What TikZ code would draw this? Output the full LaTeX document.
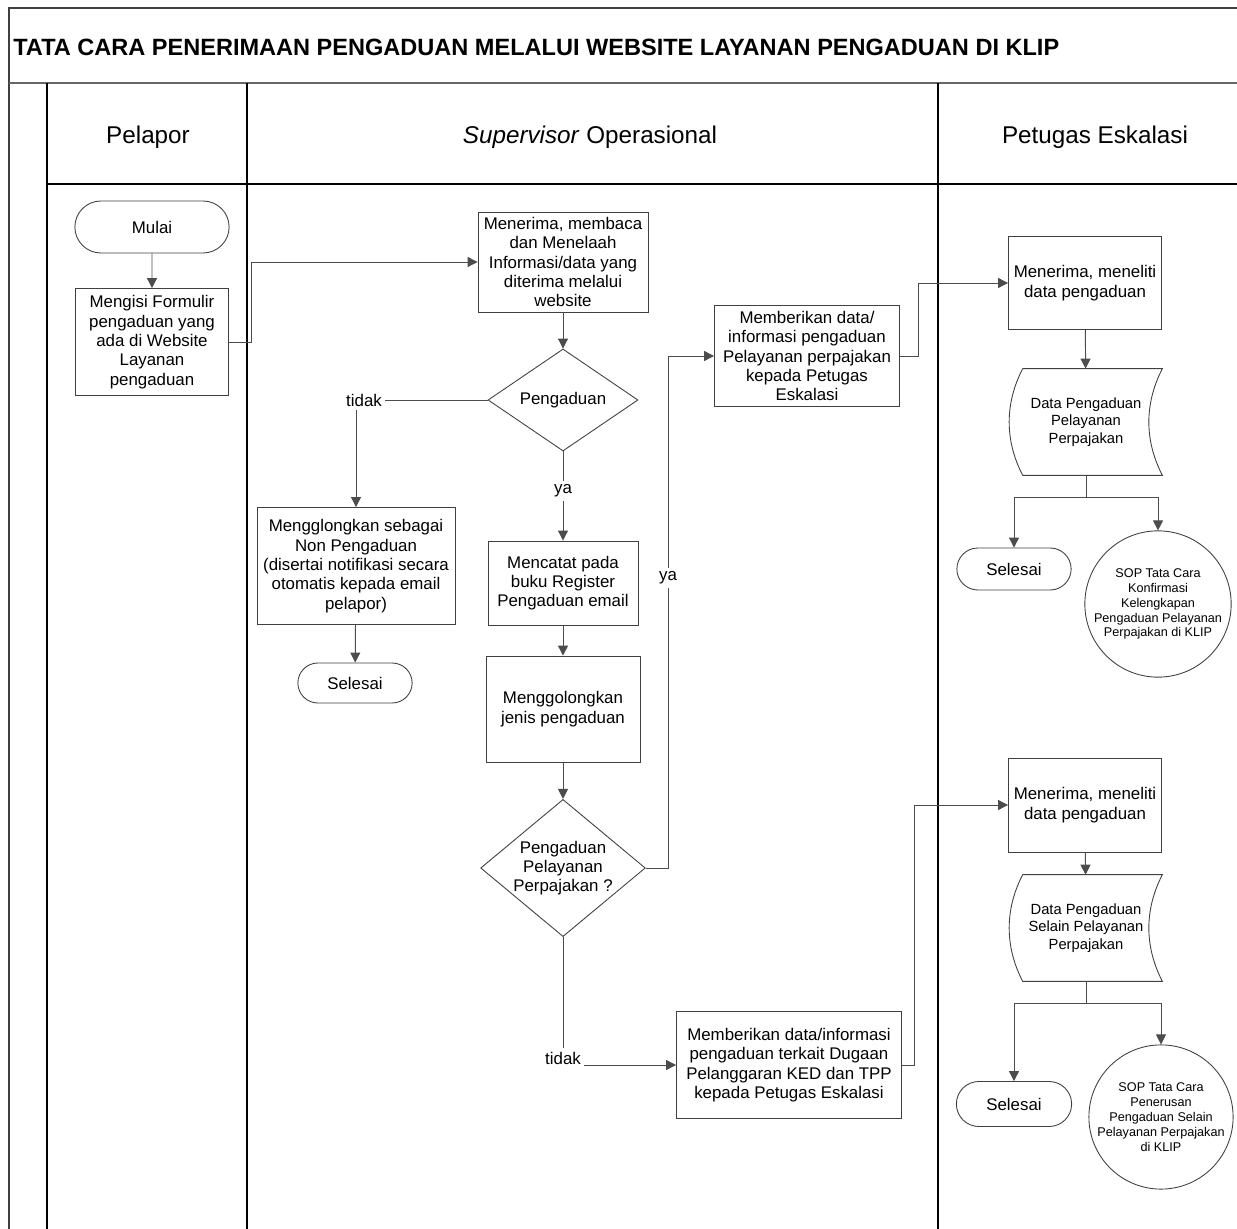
\documentclass[tikz,border=0pt]{standalone}
\usepackage{fontspec}
\setmainfont{Liberation Sans}
\usepackage{tikz}
\usetikzlibrary{shapes.geometric,shapes.misc,arrows.meta}

\newcommand\fbody{\fontsize{9.6}{11}\selectfont}
\newcommand\fdoc{\fontsize{8.4}{9.8}\selectfont}
\newcommand\fsop{\fontsize{7.2}{8.5}\selectfont}
\newcommand\fhead{\fontsize{13.8}{16}\selectfont}
\newcommand\fjudul{\fontsize{13.4}{15}\selectfont\bfseries}

\tikzset{
	box/.style={draw=black!75, line width=0.5pt, rectangle, align=center, font=\fbody, inner sep=1pt},
	term/.style={draw=black!75, line width=0.5pt, rounded rectangle, font=\fbody},
	dec/.style={draw=black!75, line width=0.5pt, diamond, align=center, font=\fbody, inner sep=0pt},
	doc/.style={rectangle, align=center, font=\fdoc, inner sep=0pt},
	sop/.style={draw=black!75, line width=0.5pt, circle, align=center, font=\fsop, inner sep=0pt},
	lbl/.style={fill=white, font=\fbody, inner sep=2pt},
	line/.style={draw=black!70, line width=0.55pt},
	arr/.style={line, -{Triangle[length=0.2cm,width=0.2cm]}}
}

\begin{document}
\begin{tikzpicture}[x=0.02cm, y=-0.02cm]
	\useasboundingbox (0,0) rectangle (1237,1229);
	
	% frame and lanes
	\draw[black!75, line width=1pt] (1237,8) -- (9,8) -- (9,1229);
	\draw[black!60, line width=1.6pt] (9,83) -- (1237,83);
	\draw[line width=0.7pt] (47,83) -- (47,1229);
	\draw[line width=0.7pt] (247,83) -- (247,1229);
	\draw[line width=0.7pt] (938,83) -- (938,1229);
	\draw[line width=0.7pt] (47,184) -- (1237,184);
	
	\node[anchor=west, font=\fjudul, inner sep=0pt] (judul) at (13,47) {TATA CARA PENERIMAAN PENGADUAN MELALUI WEBSITE LAYANAN PENGADUAN DI KLIP};
	\node[font=\fhead] (h1) at (148,137) {Pelapor};
	\node[font=\fhead] (h2) at (590,137) {\textit{Supervisor} Operasional};
	\node[font=\fhead] (h3) at (1095,137) {Petugas Eskalasi};
	
	% Pelapor
	\node[term, minimum width=3.32cm, minimum height=1.04cm] (1) at (152,227) {Mulai};
	\node[box, minimum width=3.06cm, minimum height=2.14cm] (2) at (152,342) {Mengisi Formulir\\pengaduan yang\\ada di Website\\Layanan\\pengaduan};
	
	% Supervisor Operasional
	\node[box, minimum width=3.4cm, minimum height=2cm] (3) at (563,262) {Menerima, membaca\\dan Menelaah\\Informasi/data yang\\diterima melalui\\website};
	\node[dec, minimum width=3cm, minimum height=1.66cm] (4) at (563,400) {Pengaduan};
	\node[box, minimum width=3.96cm, minimum height=2.34cm] (5) at (356,566) {Mengglongkan sebagai\\Non Pengaduan\\(disertai notifikasi secara\\otomatis kepada email\\pelapor)};
	\node[term, minimum width=2.52cm, minimum height=0.8cm] (6) at (355,683) {Selesai};
	\node[box, minimum width=3cm, minimum height=1.68cm] (7) at (563,583) {Mencatat pada\\buku Register\\Pengaduan email};
	\node[box, minimum width=3.08cm, minimum height=2.12cm] (8) at (563,709) {Menggolongkan\\jenis pengaduan};
	\node[dec, aspect=1.2, minimum width=3.28cm, minimum height=2.64cm] (9) at (563,868) {Pengaduan\\Pelayanan\\Perpajakan ?};
	\node[box, minimum width=3.7cm, minimum height=2.02cm] (10) at (807,356) {Memberikan data/\\informasi pengaduan\\Pelayanan perpajakan\\kepada Petugas\\Eskalasi};
	\node[box, minimum width=4.5cm, minimum height=2.14cm] (11) at (789,1065) {Memberikan data/informasi\\pengaduan terkait Dugaan\\Pelanggaran KED dan TPP\\kepada Petugas Eskalasi};
	
	% Petugas Eskalasi
	\node[box, minimum width=3.06cm, minimum height=1.86cm] (12) at (1085,283) {Menerima, meneliti\\data pengaduan};
	\node[doc, minimum width=3.04cm, minimum height=2.12cm] (13) at (1086,422) {Data Pengaduan\\Pelayanan\\Perpajakan};
	\node[term, minimum width=2.52cm, minimum height=0.84cm] (14) at (1014,569) {Selesai};
	\node[sop, minimum size=2.86cm] (15) at (1158,604) {SOP Tata Cara\\Konfirmasi\\Kelengkapan\\Pengaduan Pelayanan\\Perpajakan di KLIP};
	\node[box, minimum width=3.06cm, minimum height=1.88cm] (16) at (1085,805) {Menerima, meneliti\\data pengaduan};
	\node[doc, minimum width=3.04cm, minimum height=2.12cm] (17) at (1086,928) {Data Pengaduan\\Selain Pelayanan\\Perpajakan};
	\node[term, minimum width=2.54cm, minimum height=0.9cm] (18) at (1014,1104) {Selesai};
	\node[sop, minimum size=2.86cm] (19) at (1161,1117) {SOP Tata Cara\\Penerusan\\Pengaduan Selain\\Pelayanan Perpajakan\\di KLIP};
	
	\foreach \n in {13,17}
		\draw[black!75, line width=0.5pt] ([xshift=0.26cm]\n.north west) -- (\n.north east)
			.. controls +(-18,35) and +(-18,-35) .. (\n.south east)
			-- ([xshift=0.26cm]\n.south west)
			.. controls +(-18,-35) and +(-18,35) .. ([xshift=0.26cm]\n.north west);
	
	\draw[arr] (1) -- (2);
	\draw[arr] (2.east) -- ++(23,0) |- (3.west);
	\draw[arr] (3) -- (4);
	\draw[arr] (4.west) -| (5.north);
	\draw[arr] (5) -- (6);
	\draw[arr] (4) -- (7);
	\draw[arr] (7) -- (8);
	\draw[arr] (8) -- (9);
	\draw[arr] (9.east) -- ++(23,0) |- (10.west);
	\draw[arr] (9.south) |- (11.west);
	\draw[arr] (10.east) -- ++(19,0) |- (12.west);
	\draw[arr] (11.east) -- ++(13,0) |- (16.west);
	\draw[arr] (12) -- (13);
	\draw[arr] (13.south) -- ++(0,22) -| (14.north);
	\draw[arr] (13.south) -- ++(0,22) -| (15.north);
	\draw[arr] (16) -- (17);
	\draw[arr] (17.south) -- ++(0,22) -| (18.north);
	\draw[arr] (17.south) -- ++(0,22) -| (19.north);
	
	\node[lbl] (t1) at (364,400) {tidak};
	\node[lbl] (y1) at (563,491) {ya};
	\node[lbl] (y2) at (668,578) {ya};
	\node[lbl] (t2) at (563,1058) {tidak};
\end{tikzpicture}
\end{document}
